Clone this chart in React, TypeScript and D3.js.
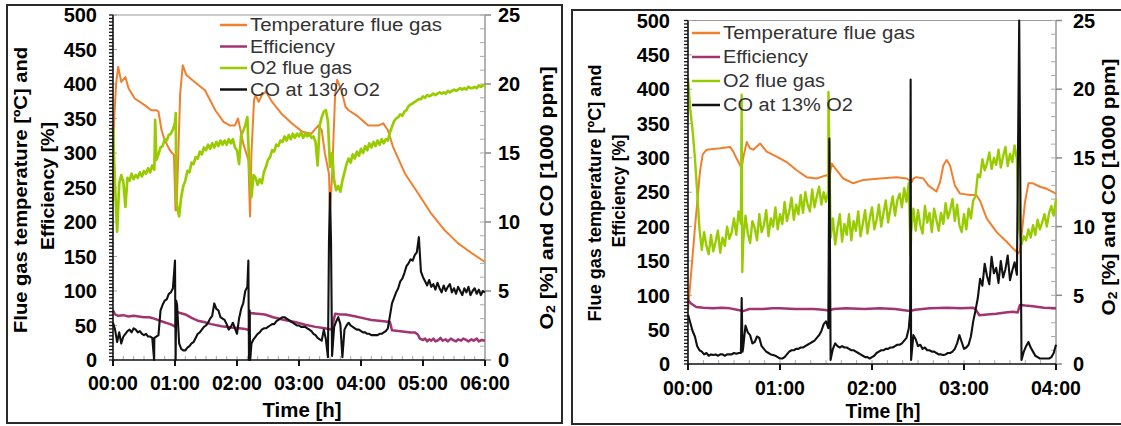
import React from "react";
import * as d3 from "d3";

// ---------------- data ----------------
const leftTimeLabels = ["00:00", "01:00", "02:00", "03:00", "04:00", "05:00", "06:00"];
const rightTimeLabels = ["00:00", "01:00", "02:00", "03:00", "04:00"];
const primaryTicks = [0, 50, 100, 150, 200, 250, 300, 350, 400, 450, 500];
const secondaryTicks = [0, 5, 10, 15, 20, 25];
const seriesNames = ["Temperature flue gas", "Efficiency", "O2 flue gas", "CO at 13% O2"];
const seriesColors = ["#f0802f", "#a23471", "#99cc00", "#111111"];

// Left chart (6 h) — [minute, value]
const leftTemp: [number, number][] = [
  [0, 230], [1, 345], [3, 400], [5, 425], [8, 403], [12, 410], [15, 394], [21, 379], [31, 369], [37, 362],
  [42, 362], [44, 360], [47, 333], [50, 319], [55, 304], [59, 297], [60.5, 217], [61.5, 217], [65, 386], [67.5, 427],
  [71, 413], [79, 403], [89, 391], [99, 362], [107, 345], [113, 340], [118, 340], [121, 350], [123, 336], [126, 314],
  [131, 290], [132.6, 208], [134, 300], [136.5, 377], [138, 384], [141, 374], [144, 384], [148, 389], [154, 374], [163, 357],
  [173, 343], [183, 331], [192, 328], [198.7, 340], [202, 333], [205, 300], [209, 270], [210, 217], [212, 266], [215, 386],
  [217, 406], [221, 391], [225, 367], [228, 362], [237, 353], [247, 340], [257, 340], [261.6, 343], [266, 333], [271, 309],
  [282.6, 270], [295.5, 241], [308, 212], [321, 188], [334, 169], [347, 155], [360, 142],
];
const leftEff: [number, number][] = [
  [0, 72], [2, 66], [5, 64], [10, 65], [15, 63], [20, 64], [25, 63], [30, 62], [35, 62], [40, 60],
  [45, 57], [49, 55], [53, 53], [57, 51], [60.5, 48], [61.5, 70], [65, 68], [70, 66], [76, 61], [82, 57],
  [88, 55], [95, 52], [105, 49], [115, 47], [122, 46], [128, 45], [131.5, 43], [132.5, 68], [140, 67], [147, 66],
  [155, 62], [166, 58], [176, 55], [186, 51], [196, 48], [205, 46], [211.5, 44], [215, 67], [220, 66], [225, 66],
  [235, 63], [244, 60], [250, 58], [257, 57], [262, 56], [268, 55], [270, 43], [276, 42], [282, 41], [288, 40],
  [292, 40], [295, 37], [297, 31], [300, 29], [302, 31], [304, 27], [306, 30], [308, 28], [310, 31], [312, 27],
  [315, 29], [317, 32], [319, 28], [322, 30], [324, 27], [327, 31], [329, 29], [332, 27], [334, 30], [337, 28],
  [339, 31], [342, 29], [344, 27], [347, 30], [349, 28], [352, 31], [354, 27], [357, 29], [360, 28],
];
// O2 and CO sampled every 2 minutes
const leftO2: number[] = [
  16.9, 12.5, 9.3, 12.8, 13.4, 12.9, 11.1, 13.2, 13.0, 13.5,
  13.1, 13.4, 13.2, 13.6, 13.3, 13.7, 13.5, 13.9, 13.6, 14.1,
  13.8, 14.5, 14.9, 15.4, 15.5, 16.0, 15.9, 16.3, 16.4, 16.7,
  17.2, 11.2, 10.4, 11.8, 12.6, 13.0, 13.7, 13.6, 14.3, 14.2,
  14.7, 14.6, 15.1, 14.9, 15.4, 15.2, 15.6, 15.3, 15.7, 15.4,
  15.8, 15.5, 15.9, 15.6, 15.9, 15.6, 16.0, 15.7, 16.0, 15.4,
  15.2, 14.2, 16.3, 16.6, 17.0, 17.6, 13.8, 11.8, 13.4, 13.2,
  12.7, 13.1, 12.8, 13.6, 14.0, 14.5, 14.7, 15.2, 15.1, 15.6,
  15.5, 15.9, 15.8, 16.2, 15.9, 16.3, 16.0, 16.4, 16.1, 16.4,
  16.2, 16.5, 16.1, 16.4, 16.2, 16.4, 16.1, 16.2, 15.8, 14.1,
  17.0, 17.6, 18.0, 18.1, 17.3, 14.0, 15.0, 13.0, 12.3, 12.6,
  12.2, 13.0, 13.6, 14.2, 14.6, 14.3, 14.9, 14.6, 15.1, 14.8,
  15.3, 15.0, 15.5, 15.2, 15.7, 15.4, 15.8, 15.5, 15.9, 15.6,
  16.0, 15.7, 16.0, 15.9, 16.5, 16.9, 17.3, 17.5, 17.6, 17.8,
  17.7, 18.0, 18.1, 18.4, 18.5, 18.6, 18.7, 18.8, 18.9, 18.9,
  19.1, 19.0, 19.2, 19.1, 19.2, 19.3, 19.2, 19.3, 19.4, 19.3,
  19.4, 19.3, 19.5, 19.4, 19.5, 19.6, 19.5, 19.6, 19.7, 19.6,
  19.7, 19.6, 19.8, 19.7, 19.7, 19.8, 19.7, 19.9, 19.8, 19.9,
  19.9,
];
const leftO2Spikes: [number, number][] = [[40.8, 17.4], [60.8, 17.9], [61.2, 11.4]];
const leftCO: number[] = [
  2.7, 2.2, 1.3, 2.0, 1.2, 1.7, 1.9, 2.1, 2.2, 2.0,
  2.3, 2.2, 2.0, 2.1, 1.9, 1.8, 1.9, 1.7, 1.7, 1.6,
  1.6, 1.7, 1.8, 3.6, 4.0, 4.3, 4.4, 4.8, 4.9, 5.2,
  7.2, 4.0, 1.2, 0.8, 0.7, 0.7, 0.9, 1.0, 1.2, 1.3,
  1.6, 1.9, 2.0, 2.2, 2.4, 2.5, 2.7, 3.0, 3.2, 4.1,
  3.7, 3.6, 3.1, 3.0, 2.9, 2.6, 2.2, 2.4, 2.7, 2.3,
  1.9, 3.0, 3.7, 4.1, 5.0, 5.3, 2.0, 1.2, 1.5, 1.7,
  1.9, 2.0, 2.2, 2.3, 2.3, 2.4, 2.5, 2.6, 2.6, 2.8,
  2.9, 3.0, 3.1, 3.1, 3.0, 2.9, 2.8, 2.7, 2.6, 2.5,
  2.5, 2.4, 2.4, 2.4, 2.3, 2.2, 2.1, 1.9, 1.8, 1.6,
  1.5, 1.4, 2.2, 1.5, 0.2, 12.1, 0.3, 2.4, 2.8, 3.1,
  2.6, 0.2, 2.2, 2.5, 2.7, 2.5, 2.4, 2.3, 2.2, 2.2,
  2.1, 2.0, 2.0, 1.9, 1.9, 1.8, 1.8, 1.8, 1.8, 1.9,
  1.9, 2.0, 2.1, 2.3, 3.2, 4.1, 4.5, 4.9, 5.2, 5.7,
  5.9, 6.3, 6.8, 7.0, 7.3, 7.2, 7.6, 7.8, 8.9, 6.4,
  6.0, 5.7, 5.4, 5.8, 5.3, 5.5, 5.1, 5.6, 5.2, 4.9,
  5.4, 5.0, 5.3, 5.5, 4.9, 5.2, 4.8, 5.3, 5.0, 4.7,
  5.2, 4.9, 5.3, 4.7, 5.0, 5.2, 4.8, 5.1, 4.7, 5.0,
  4.9,
];
const leftCOSpikes: [number, number][] = [
  [39.8, 0], [60.6, 0], [61.2, 4.3], [131, 7.2], [131.6, 0], [132.2, 3.6], [132.8, 0], [209, 8.5], [211, 8.5],
];

// Right chart (4 h)
const rightTemp: [number, number][] = [
  [0, 78], [4.6, 200], [7.8, 280], [9.6, 305], [12.2, 312], [20.9, 314], [27.4, 316], [29.6, 309], [31.7, 299], [35, 285],
  [36, 300], [38.3, 323], [40.4, 314], [42.6, 312], [47, 321], [51.3, 309], [57.8, 302], [64.3, 294], [70.9, 282], [77.4, 272],
  [83.9, 270], [90.4, 275], [92.2, 270], [93.7, 292], [95.9, 285], [101.3, 270], [107.8, 263], [114.4, 268], [125.2, 270], [136, 272],
  [142.6, 270], [145.9, 265], [147, 270], [149, 272], [153.5, 270], [156.7, 260], [162, 251], [164.4, 265], [166.5, 289], [168.7, 297],
  [170.9, 289], [174, 260], [177.4, 248], [184, 246], [188, 246], [190.4, 238], [194.8, 212], [201.3, 192], [207.8, 178], [212, 168],
  [215.4, 161], [216.5, 165], [219.8, 236], [222, 263], [225, 263], [229.6, 258], [234, 255], [240, 248],
];
const rightEff: [number, number][] = [
  [0, 93], [2, 88], [5.4, 83], [10, 82], [16.5, 81], [22, 82], [27.4, 81], [32, 79], [36, 77], [40, 80],
  [49, 80], [55, 81], [60, 81], [70, 80], [82, 80], [88, 79], [92, 78], [95, 80], [103, 81], [115, 80],
  [125, 81], [135, 80], [144.7, 77], [148, 79], [157.8, 81], [168.7, 82], [178, 81], [186, 82], [188, 78], [190, 71],
  [195, 72], [201, 73], [207, 75], [212, 76], [215, 75], [216.5, 86], [220, 85], [225, 84], [232, 82], [240, 81],
];
// O2 and CO sampled every 1.5 minutes
const rightO2: number[] = [
  20.8, 18.5, 17.0, 15.0, 12.5, 9.8, 8.3, 9.6, 8.6, 8.0,
  9.4, 8.2, 8.9, 9.7, 8.1, 9.2, 8.6, 10.0, 9.1, 9.6,
  10.6, 9.4, 11.1, 10.2, 8.9, 10.8, 9.5, 8.8, 10.4, 9.9,
  9.0, 10.9, 9.6, 10.1, 11.2, 9.3, 10.6, 10.0, 11.4, 9.8,
  10.9, 10.2, 11.8, 10.4, 11.1, 12.1, 10.5, 11.6, 10.9, 12.3,
  11.0, 12.5, 11.6, 11.1, 12.7, 11.4, 12.2, 12.9, 11.6, 12.5,
  11.8, 12.6, 9.2, 10.6, 8.7, 9.9, 10.9, 8.9, 10.2, 9.4,
  10.9, 9.0, 10.4, 9.7, 11.1, 9.3, 10.2, 11.2, 9.5, 10.6,
  11.4, 9.8, 10.5, 11.6, 10.0, 11.0, 11.9, 10.3, 11.3, 12.2,
  10.8, 11.9, 12.4, 11.4, 12.8, 11.8, 13.2, 9.6, 11.3, 9.7,
  11.2, 10.1, 9.5, 11.5, 10.3, 11.0, 9.6, 11.3, 10.5, 9.7,
  11.0, 10.2, 11.7, 10.6, 11.2, 12.0, 10.4, 11.6, 10.1, 9.6,
  10.9, 9.8, 11.3, 10.6, 11.9, 12.2, 13.8, 13.6, 14.9, 14.1,
  14.6, 15.4, 14.2, 15.0, 14.5, 15.6, 14.3, 15.1, 15.8, 14.4,
  15.3, 14.7, 15.9, 14.9, 9.8, 8.7, 9.3, 9.0, 9.8, 9.2,
  10.1, 9.4, 10.5, 9.8, 10.3, 10.9, 10.0, 11.0, 11.5, 10.8,
  12.0,
];
const rightO2Spikes: [number, number][] = [[35, 19.6], [35.4, 6.7], [91.6, 19.8], [145.2, 7.9]];
const rightCO: number[] = [
  3.6, 3.0, 2.4, 2.0, 1.3, 1.0, 0.9, 0.7, 0.8, 0.6,
  0.7, 0.65, 0.7, 0.6, 0.7, 0.7, 0.6, 0.7, 0.7, 0.7,
  0.8, 0.75, 0.8, 0.8, 1.2, 2.8, 2.3, 2.1, 1.5, 1.6,
  2.0, 1.9, 1.3, 1.1, 0.9, 0.8, 0.7, 0.65, 0.6, 0.5,
  0.4, 0.4, 0.5, 0.7, 0.9, 1.0, 1.0, 1.1, 1.1, 1.2,
  1.2, 1.3, 1.4, 1.5, 1.6, 1.7, 1.9, 2.1, 2.4, 2.9,
  3.1, 2.6, 0.3, 1.1, 1.5, 1.3, 1.2, 1.3, 1.2, 1.2,
  1.1, 1.0, 1.0, 0.9, 0.8, 0.7, 0.6, 0.5, 0.5, 0.4,
  0.5, 0.6, 0.8, 0.9, 1.0, 1.0, 1.1, 1.1, 1.2, 1.2,
  1.3, 1.4, 1.4, 1.5, 1.7, 1.9, 2.6, 0.3, 2.1, 1.8,
  1.3, 1.4, 1.1, 1.2, 1.0, 1.0, 0.9, 0.9, 0.8, 0.7,
  0.7, 0.65, 0.7, 0.8, 0.8, 0.9, 1.1, 1.5, 2.1, 1.6,
  1.1, 1.2, 1.4, 2.0, 3.1, 3.9, 4.8, 6.2, 5.7, 7.3,
  6.4, 5.8, 7.8, 6.6, 7.0, 5.9, 7.5, 6.3, 6.9, 7.9,
  6.1, 6.8, 7.4, 6.5, 25, 0.3, 0.9, 1.3, 1.6, 1.2,
  0.9, 0.6, 0.5, 0.4, 0.4, 0.4, 0.4, 0.4, 0.5, 0.8,
  1.4,
];
const rightCOSpikes: [number, number][] = [[35, 4.8], [35.6, 0.9], [92.2, 16.4], [144.9, 3.8], [145.2, 20.7]];

// ---------------- helpers ----------------
type Pt = [number, number];
const merge = (vals: number[], step: number, spikes: Pt[]): Pt[] =>
  [...vals.map((v, i) => [i * step, v] as Pt), ...spikes].sort((a, b) => a[0] - b[0]);

const FONT = "'Liberation Sans', Arial, Helvetica, sans-serif";

type Cfg = {
  frame: [number, number, number, number];
  x0: number; x1: number; y0: number; y1: number;
  hours: number;
  timeLabels: string[];
  temp: Pt[]; eff: Pt[]; o2: Pt[]; co: Pt[];
  legLine: [number, number]; legText: number; legRows: number[];
  legWidths: number[];
  t1: [number, number, number]; t2: [number, number, number]; tr: [number, number, number];
  time: [number, number, number];
  yLabLeftGap: number; yLabRightGap: number; xLabY: number;
  o2Width: number;
};

function Panel({ c }: { c: Cfg }) {
  const x = d3.scaleLinear().domain([0, c.hours * 60]).range([c.x0, c.x1]);
  const yL = d3.scaleLinear().domain([0, 500]).range([c.y1, c.y0]);
  const yR = d3.scaleLinear().domain([0, 25]).range([c.y1, c.y0]);
  const lineL = d3.line<Pt>().x((p) => x(p[0])).y((p) => yL(p[1]));
  const lineR = d3.line<Pt>().x((p) => x(p[0])).y((p) => yR(p[1]));
  const minorL = d3.range(0, 501, 5);
  const minorR = d3.range(0, 26, 1);
  const minorX = d3.range(0, c.hours * 60 + 1, 10);
  const hourTicks = d3.range(0, c.hours + 1).map((h) => h * 60);
  const [fx, fy, fw, fh] = c.frame;
  return (
    <g>
      <rect x={fx} y={fy} width={fw} height={fh} fill="none" stroke="#2a2a2a" strokeWidth={2} />
      {/* frame lines */}
      <line x1={c.x0} x2={c.x1} y1={c.y0} y2={c.y0} stroke="#9a9a9a" strokeWidth={1.2} />
      <line x1={c.x1} x2={c.x1} y1={c.y0} y2={c.y1} stroke="#9a9a9a" strokeWidth={1.5} />
      {minorR.map((v) => (
        <line key={"mr" + v} x1={c.x1 - 5} x2={c.x1} y1={yR(v)} y2={yR(v)} stroke="#aaa" strokeWidth={1} />
      ))}
      {secondaryTicks.map((v) => (
        <line key={"Mr" + v} x1={c.x1} x2={c.x1 + 6} y1={yR(v)} y2={yR(v)} stroke="#888" strokeWidth={1.5} />
      ))}
      {minorX.map((t) => (
        <line key={"mx" + t} x1={x(t)} x2={x(t)} y1={c.y1 - 4} y2={c.y1} stroke="#aaa" strokeWidth={1} />
      ))}
      {primaryTicks.map((v) => (
        <line key={"Ml" + v} x1={c.x0} x2={c.x0 + 4} y1={yL(v)} y2={yL(v)} stroke="#aaa" strokeWidth={1} />
      ))}
      {/* series */}
      <path d={lineL(c.temp) || ""} fill="none" stroke={seriesColors[0]} strokeWidth={2} strokeLinejoin="round" />
      <path d={lineL(c.eff) || ""} fill="none" stroke={seriesColors[1]} strokeWidth={2.5} strokeLinejoin="round" />
      <path d={lineR(c.o2) || ""} fill="none" stroke={seriesColors[2]} strokeWidth={c.o2Width} strokeLinejoin="round" />
      <path d={lineR(c.co) || ""} fill="none" stroke={seriesColors[3]} strokeWidth={2.1} strokeLinejoin="round" />
      {/* left axis */}
      <line x1={c.x0} x2={c.x0} y1={c.y0} y2={c.y1} stroke="#111" strokeWidth={1.6} />
      {minorL.map((v) => (
        <line key={"ml" + v} x1={c.x0 - 4} x2={c.x0} y1={yL(v)} y2={yL(v)} stroke="#111" strokeWidth={1.3} />
      ))}
      {/* x axis */}
      <line x1={c.x0} x2={c.x1} y1={c.y1} y2={c.y1} stroke="#111" strokeWidth={1.6} />
      {hourTicks.map((t) => (
        <line key={"Mx" + t} x1={x(t)} x2={x(t)} y1={c.y1} y2={c.y1 + 6} stroke="#111" strokeWidth={2} />
      ))}
      {/* tick labels */}
      <g fontFamily={FONT} fontWeight={700} fontSize={20} fill="#000">
        {primaryTicks.map((v) => (
          <text key={"tl" + v} x={c.x0 - c.yLabLeftGap} y={yL(v)} textAnchor="end" dy="0.36em">{v}</text>
        ))}
        {secondaryTicks.map((v) => (
          <text key={"tr" + v} x={c.x1 + c.yLabRightGap} y={yR(v)} textAnchor="start" dy="0.36em">{v}</text>
        ))}
        {c.timeLabels.map((s, i) => (
          <text key={"tx" + i} x={x(hourTicks[i])} y={c.xLabY} textAnchor="middle" textLength={50} lengthAdjust="spacingAndGlyphs">{s}</text>
        ))}
        <text x={c.time[0]} y={c.time[1]} textAnchor="middle" textLength={c.time[2]} lengthAdjust="spacingAndGlyphs">Time [h]</text>
        <text transform={`translate(${c.t1[0]},${c.t1[1]}) rotate(-90)`} textAnchor="middle" dominantBaseline="central" fontSize={19}
          textLength={c.t1[2]} lengthAdjust="spacingAndGlyphs">Flue gas temperature [ºC] and</text>
        <text transform={`translate(${c.t2[0]},${c.t2[1]}) rotate(-90)`} textAnchor="middle" dominantBaseline="central" fontSize={19}
          textLength={c.t2[2]} lengthAdjust="spacingAndGlyphs">Efficiency [%]</text>
        <text transform={`translate(${c.tr[0]},${c.tr[1]}) rotate(-90)`} textAnchor="middle" dominantBaseline="central" fontSize={18}
          textLength={c.tr[2]} lengthAdjust="spacingAndGlyphs">
          O<tspan fontSize={12} dy={4}>2</tspan><tspan dy={-4}> [%] and CO [1000 ppm]</tspan>
        </text>
      </g>
      {/* legend */}
      <g fontFamily={FONT} fontSize={18} fill="#333">
        {seriesNames.map((n, i) => (
          <g key={n}>
            <line x1={c.legLine[0]} x2={c.legLine[1]} y1={c.legRows[i]} y2={c.legRows[i]} stroke={seriesColors[i]} strokeWidth={2.5} />
            <text x={c.legText} y={c.legRows[i] + 6} textLength={c.legWidths[i]} lengthAdjust="spacingAndGlyphs">{n}</text>
          </g>
        ))}
      </g>
    </g>
  );
}

const leftCfg: Cfg = {
  frame: [7, 5, 555, 418],
  x0: 113, x1: 485, y0: 15, y1: 360, hours: 6,
  timeLabels: leftTimeLabels,
  temp: leftTemp, eff: leftEff, o2: merge(leftO2, 2, leftO2Spikes), co: merge(leftCO, 2, leftCOSpikes),
  legLine: [220, 247], legText: 250, legRows: [25, 46.5, 68, 89.5], legWidths: [192, 85, 102, 130],
  t1: [20, 190, 286], t2: [47, 186, 128], tr: [547, 198, 263], time: [302, 417, 79],
  yLabLeftGap: 16, yLabRightGap: 13, xLabY: 390, o2Width: 2.7,
};
const rightCfg: Cfg = {
  frame: [572, 10, 560, 414],
  x0: 688, x1: 1056, y0: 20.5, y1: 364, hours: 4,
  timeLabels: rightTimeLabels,
  temp: rightTemp, eff: rightEff, o2: merge(rightO2, 1.5, rightO2Spikes), co: merge(rightCO, 1.5, rightCOSpikes),
  legLine: [692, 720], legText: 723, legRows: [33, 57, 81, 105], legWidths: [192, 85, 102, 130],
  t1: [594, 193, 257], t2: [618, 191, 113], tr: [1109, 187, 257], time: [883, 418, 75],
  yLabLeftGap: 18, yLabRightGap: 17, xLabY: 395, o2Width: 2.4,
};

export default function App() {
  return (
    <svg width={1121} height={426} style={{ position: "absolute", left: 0, top: 0, background: "#fff" }}>
      <rect x={0} y={0} width={1121} height={426} fill="#fff" />
      <Panel c={leftCfg} />
      <Panel c={rightCfg} />
    </svg>
  );
}
